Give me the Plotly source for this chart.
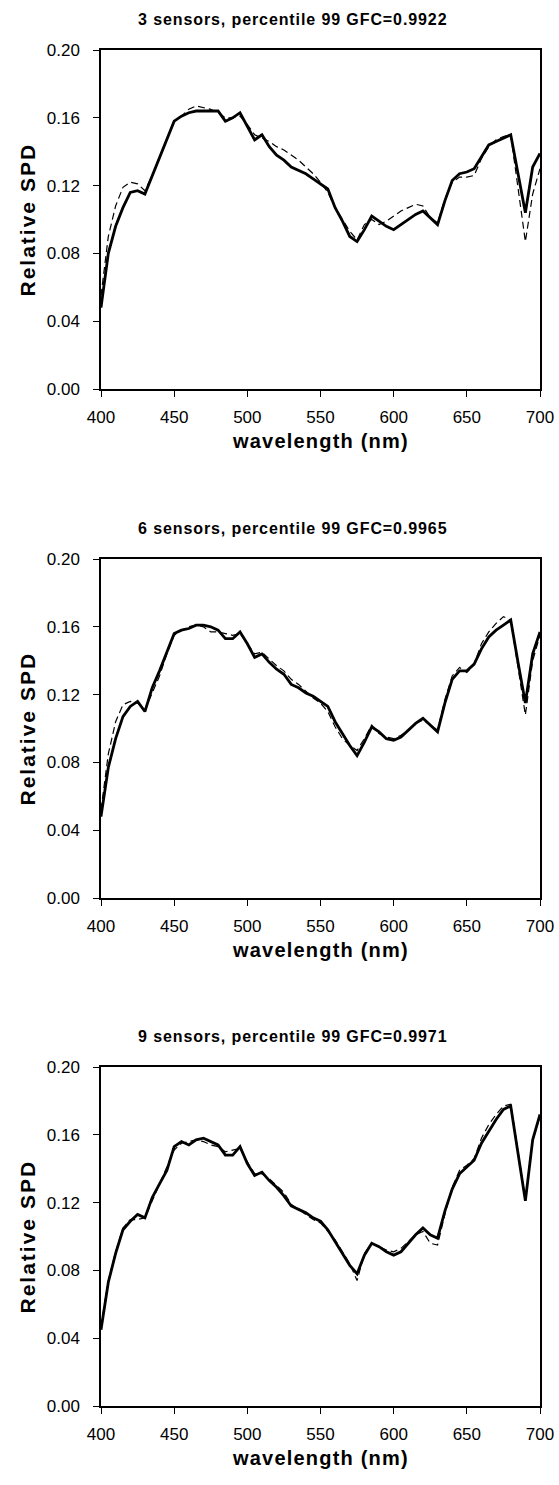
import plotly.graph_objects as go

wavelength = list(range(400, 701, 5))

titles = ["3 sensors, percentile 99 GFC=0.9922",
          "6 sensors, percentile 99 GFC=0.9965",
          "9 sensors, percentile 99 GFC=0.9971"]

measured_3 = [0.048, 0.080, 0.096, 0.107, 0.116, 0.117, 0.115, 0.126, 0.137, 0.148,
              0.158, 0.161, 0.163, 0.164, 0.164, 0.164, 0.164, 0.158, 0.160, 0.163,
              0.155, 0.147, 0.150, 0.143, 0.138, 0.135, 0.131, 0.129, 0.127, 0.124,
              0.121, 0.118, 0.107, 0.099, 0.090, 0.087, 0.094, 0.102, 0.099, 0.096,
              0.094, 0.097, 0.100, 0.103, 0.105, 0.101, 0.097, 0.111, 0.123, 0.127,
              0.128, 0.130, 0.137, 0.144, 0.146, 0.148, 0.150, 0.127, 0.104, 0.131,
              0.139]
estimated_3 = [0.055, 0.090, 0.108, 0.119, 0.122, 0.121, 0.117, 0.126, 0.137, 0.148,
               0.158, 0.161, 0.165, 0.167, 0.166, 0.165, 0.163, 0.160, 0.160, 0.161,
               0.156, 0.150, 0.148, 0.146, 0.143, 0.141, 0.138, 0.135, 0.131, 0.127,
               0.122, 0.116, 0.107, 0.100, 0.093, 0.088, 0.097, 0.100, 0.097, 0.099,
               0.102, 0.105, 0.107, 0.109, 0.108, 0.101, 0.098, 0.112, 0.122, 0.125,
               0.125, 0.126, 0.136, 0.143, 0.147, 0.149, 0.150, 0.118, 0.087, 0.115,
               0.130]

measured_6 = [0.048, 0.077, 0.094, 0.107, 0.113, 0.116, 0.110, 0.124, 0.134, 0.145,
              0.156, 0.158, 0.159, 0.161, 0.161, 0.160, 0.158, 0.153, 0.153, 0.157,
              0.150, 0.142, 0.144, 0.139, 0.135, 0.132, 0.126, 0.124, 0.121, 0.119,
              0.116, 0.113, 0.104, 0.097, 0.090, 0.084, 0.092, 0.101, 0.098, 0.094,
              0.093, 0.095, 0.099, 0.103, 0.106, 0.102, 0.098, 0.115, 0.129, 0.134,
              0.134, 0.138, 0.147, 0.154, 0.158, 0.161, 0.164, 0.139, 0.115, 0.144,
              0.157]
estimated_6 = [0.052, 0.085, 0.104, 0.114, 0.116, 0.115, 0.111, 0.121, 0.131, 0.144,
               0.155, 0.158, 0.160, 0.161, 0.160, 0.157, 0.157, 0.156, 0.155, 0.156,
               0.150, 0.144, 0.145, 0.141, 0.137, 0.134, 0.129, 0.126, 0.122, 0.118,
               0.115, 0.110, 0.101, 0.094, 0.090, 0.087, 0.094, 0.102, 0.097, 0.095,
               0.094, 0.096, 0.099, 0.103, 0.105, 0.102, 0.099, 0.117, 0.131, 0.136,
               0.133, 0.138, 0.150, 0.157, 0.162, 0.166, 0.164, 0.136, 0.108, 0.140,
               0.155]

measured_9 = [0.045, 0.073, 0.090, 0.104, 0.109, 0.113, 0.111, 0.123, 0.131, 0.139,
              0.153, 0.156, 0.154, 0.157, 0.158, 0.156, 0.154, 0.148, 0.148, 0.153,
              0.143, 0.136, 0.138, 0.133, 0.129, 0.124, 0.118, 0.116, 0.114, 0.111,
              0.109, 0.104, 0.097, 0.090, 0.083, 0.078, 0.089, 0.096, 0.094, 0.091,
              0.089, 0.091, 0.096, 0.101, 0.105, 0.101, 0.099, 0.115, 0.128, 0.137,
              0.141, 0.145, 0.155, 0.162, 0.169, 0.175, 0.177, 0.149, 0.121, 0.157,
              0.172]
estimated_9 = [0.047, 0.074, 0.091, 0.105, 0.110, 0.110, 0.111, 0.121, 0.130, 0.140,
               0.151, 0.155, 0.156, 0.157, 0.156, 0.154, 0.153, 0.150, 0.151, 0.152,
               0.144, 0.137, 0.137, 0.134, 0.130, 0.126, 0.119, 0.116, 0.113, 0.110,
               0.108, 0.103, 0.098, 0.091, 0.084, 0.074, 0.090, 0.096, 0.094, 0.092,
               0.091, 0.093, 0.097, 0.101, 0.103, 0.096, 0.095, 0.113, 0.129, 0.139,
               0.142, 0.146, 0.158, 0.166, 0.172, 0.177, 0.178, 0.150, 0.122, 0.157,
               0.171]

measured = [measured_3, measured_6, measured_9]
estimated = [estimated_3, estimated_6, estimated_9]

x_ticks = [400, 450, 500, 550, 600, 650, 700]
y_ticks = [0.00, 0.04, 0.08, 0.12, 0.16, 0.20]

W, H = 559, 1485
plot_left, plot_right = 101, 540
plot_tops = [50, 559, 1067]
plot_h = 339

FONT = "Liberation Sans, Arial, sans-serif"

fig = go.Figure()
annotations = []
for i in range(3):
    sfx = "" if i == 0 else str(i + 1)
    fig.add_trace(go.Scatter(x=wavelength, y=measured[i], mode="lines",
                             line=dict(color="black", width=2.8),
                             xaxis="x" + sfx, yaxis="y" + sfx, showlegend=False))
    fig.add_trace(go.Scatter(x=wavelength, y=estimated[i], mode="lines",
                             line=dict(color="black", width=1.2, dash="7px,4px"),
                             xaxis="x" + sfx, yaxis="y" + sfx, showlegend=False))
    top = plot_tops[i]
    bottom = top + plot_h
    ydom = [1 - bottom / H, 1 - top / H]
    xdom = [plot_left / W, plot_right / W]
    axis_common = dict(showline=True, mirror=True, linecolor="black", linewidth=1.5,
                       ticks="outside", ticklen=6, tickwidth=1, tickcolor="black",
                       showgrid=False, zeroline=False, automargin=False,
                       tickfont=dict(family=FONT, size=17, color="black"))
    fig.update_layout(**{
        "xaxis" + sfx: dict(domain=xdom, range=[400, 700], tickvals=x_ticks,
                            anchor="y" + sfx, ticklabelstandoff=6, **axis_common),
        "yaxis" + sfx: dict(domain=ydom, range=[0, 0.2], tickvals=y_ticks,
                            tickformat=".2f", anchor="x" + sfx,
                            ticklabelstandoff=10, **axis_common),
    })
    annotations.append(dict(text="<span style='letter-spacing:0.9px'><b>" + titles[i] + "</b></span>",
                            xref="paper", yref="paper",
                            x=292 / W, y=1 - (top - 31) / H, showarrow=False,
                            xanchor="center", yanchor="middle",
                            font=dict(family=FONT, size=16, color="black")))
    annotations.append(dict(text="<span style='letter-spacing:1.2px'><b>wavelength (nm)</b></span>",
                            xref="paper", yref="paper",
                            x=(plot_left + plot_right) / 2 / W, y=1 - (bottom + 52) / H,
                            showarrow=False, xanchor="center", yanchor="middle",
                            font=dict(family=FONT, size=20, color="black")))
    annotations.append(dict(text="<span style='letter-spacing:2px'><b>Relative SPD</b></span>",
                            xref="paper", yref="paper",
                            x=27 / W, y=1 - (top + plot_h / 2) / H, textangle=-90,
                            showarrow=False, xanchor="center", yanchor="middle",
                            font=dict(family=FONT, size=21, color="black")))

fig.update_layout(width=W, height=H, margin=dict(l=0, r=0, t=0, b=0, autoexpand=False),
                  paper_bgcolor="white", plot_bgcolor="white",
                  annotations=annotations, showlegend=False)
fig.write_html("out.html", config={"displayModeBar": False},
               post_script="document.body.style.margin='0';document.body.style.overflow='hidden';")
